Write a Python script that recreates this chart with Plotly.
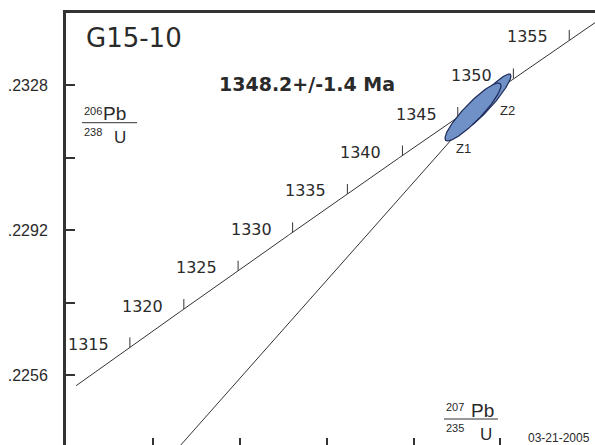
import numpy as np
import plotly.graph_objects as go

# ---- data ----
LAMBDA_238 = 1.55125e-4   # per Ma
LAMBDA_235 = 9.8485e-4    # per Ma

concordia_start_age = 1310
concordia_end_age = 1365
age_ticks = [1315, 1320, 1325, 1330, 1335, 1340, 1345, 1350, 1355]

upper_intercept_age = 1348.2
lower_intercept_age = 0.0

y_tick_values = [0.2256, 0.2274, 0.2292, 0.2310, 0.2328]
y_tick_labels = [".2256", "", ".2292", "", ".2328"]
x_tick_values = [2.659, 2.688, 2.717, 2.746, 2.775]

x_range = [2.629958, 2.806586]
y_range = [0.223862, 0.2345876]

ellipse_names = ["Z2", "Z1"]
ellipse_cx = [2.77019, 2.76585]
ellipse_cy = [0.232378, 0.23213]
ellipse_dx = [0.00835, 0.00935]
ellipse_dy = [0.000695, 0.00072]
ellipse_rho = [0.93, 0.905]
ellipse_label_shift = [(22, -8), (-10, -37)]

sample_name = "G15-10"
age_result = "1348.2+/-1.4 Ma"
date_text = "03-21-2005"

# ---- helpers ----
def concordia(t):
    t = np.asarray(t, dtype=float)
    return np.exp(LAMBDA_235 * t) - 1.0, np.exp(LAMBDA_238 * t) - 1.0

W, H = 595, 445
ML, MT = 66, 13
PW, PH = W - ML, H - MT

def px(x):
    return (x - ML) / PW

def py(y):
    return (H - y) / PH

LINE = "#333333"
TXT = "#2a2a2a"

fig = go.Figure()

# concordia curve
t_curve = np.linspace(concordia_start_age, concordia_end_age, 500)
cx, cy = concordia(t_curve)
fig.add_trace(go.Scatter(x=cx, y=cy, mode="lines",
                         line=dict(color=LINE, width=1), hoverinfo="skip"))

# discordia chord
dx_, dy_ = concordia([lower_intercept_age, upper_intercept_age])
fig.add_trace(go.Scatter(x=dx_, y=dy_, mode="lines",
                         line=dict(color=LINE, width=1), hoverinfo="skip"))

# error ellipses
theta = np.linspace(0, 2 * np.pi, 241)
for name, ex, ey, sx, sy, r in zip(ellipse_names, ellipse_cx, ellipse_cy,
                                   ellipse_dx, ellipse_dy, ellipse_rho):
    xs = ex + sx * np.cos(theta)
    ys = ey + sy * (r * np.cos(theta) + np.sqrt(1 - r * r) * np.sin(theta))
    fig.add_trace(go.Scatter(x=xs, y=ys, mode="lines", fill="toself",
                             fillcolor="#7090c8",
                             line=dict(color="#1d2a58", width=1.2),
                             hoverinfo="skip"))

# age ticks on concordia
tick_len = 10 * (y_range[1] - y_range[0]) / PH
tx, ty = concordia(age_ticks)
seg_x, seg_y = [], []
for a, b in zip(tx, ty):
    seg_x += [a, a, None]
    seg_y += [b, b + tick_len, None]
fig.add_trace(go.Scatter(x=seg_x, y=seg_y, mode="lines",
                         line=dict(color=LINE, width=1), hoverinfo="skip"))

annotations = []
for age, a, b in zip(age_ticks, tx, ty):
    annotations.append(dict(x=a, y=b, xref="x", yref="y", text=str(age),
                            showarrow=False, xanchor="right", yanchor="middle",
                            xshift=-19, yshift=3,
                            font=dict(family="DejaVu Sans", size=16, color=TXT)))

for name, ex, ey, (sx, sy) in zip(ellipse_names, ellipse_cx, ellipse_cy,
                                  ellipse_label_shift):
    annotations.append(dict(x=ex, y=ey, xref="x", yref="y", text=name,
                            showarrow=False, xanchor="center", yanchor="middle",
                            xshift=sx, yshift=sy,
                            font=dict(family="Liberation Sans", size=13, color=TXT)))

def paper_text(text, x, y, size, xanchor="left", family="DejaVu Sans", bold=False):
    if bold:
        text = "<b>" + text + "</b>"
    annotations.append(dict(x=px(x), y=py(y), xref="paper", yref="paper",
                            text=text, showarrow=False, xanchor=xanchor,
                            yanchor="middle",
                            font=dict(family=family, size=size, color=TXT)))

paper_text(sample_name, 84, 38, 26)
paper_text(age_result, 217, 84, 19, bold=True)

# y-axis ratio label 206Pb/238U
paper_text("206", 82, 111, 11, family="Liberation Sans")
paper_text("Pb", 101, 113, 19, family="Liberation Sans")
paper_text("238", 82, 132, 11, family="Liberation Sans")
paper_text("U", 120, 137, 17, xanchor="center", family="Liberation Sans")
# x-axis ratio label 207Pb/235U
paper_text("207", 444, 407, 11, family="Liberation Sans")
paper_text("Pb", 469, 410, 19, family="Liberation Sans")
paper_text("235", 444, 428, 11, family="Liberation Sans")
paper_text("U", 486, 434, 17, xanchor="center", family="Liberation Sans")

paper_text(date_text, 526, 438, 12, family="Liberation Sans")

shapes = [
    dict(type="line", xref="paper", yref="paper", x0=px(82), x1=px(137),
         y0=py(122.7), y1=py(122.7), line=dict(color=LINE, width=1)),
    dict(type="line", xref="paper", yref="paper", x0=px(444), x1=px(498),
         y0=py(419), y1=py(419), line=dict(color=LINE, width=1)),
]

fig.update_layout(
    width=W, height=H,
    margin=dict(l=ML, r=0, t=MT, b=0, pad=0),
    paper_bgcolor="white", plot_bgcolor="white",
    showlegend=False,
    annotations=annotations,
    shapes=shapes,
    xaxis=dict(range=x_range, showgrid=False, zeroline=False,
               showline=True, linecolor=LINE, linewidth=3, mirror=True,
               ticks="inside", ticklen=7, tickwidth=1.5, tickcolor=LINE,
               tickvals=x_tick_values, showticklabels=False),
    yaxis=dict(range=y_range, showgrid=False, zeroline=False,
               showline=True, linecolor=LINE, linewidth=3, mirror=False,
               ticks="inside", ticklen=9, tickwidth=1.5, tickcolor=LINE,
               tickvals=y_tick_values, ticktext=y_tick_labels,
               ticklabelstandoff=12,
               tickfont=dict(family="Liberation Sans", size=16, color=TXT)),
)

fig.write_html(
    "out.html",
    config={"displayModeBar": False},
    post_script="document.body.style.margin='0';document.body.style.overflow='hidden';",
)
